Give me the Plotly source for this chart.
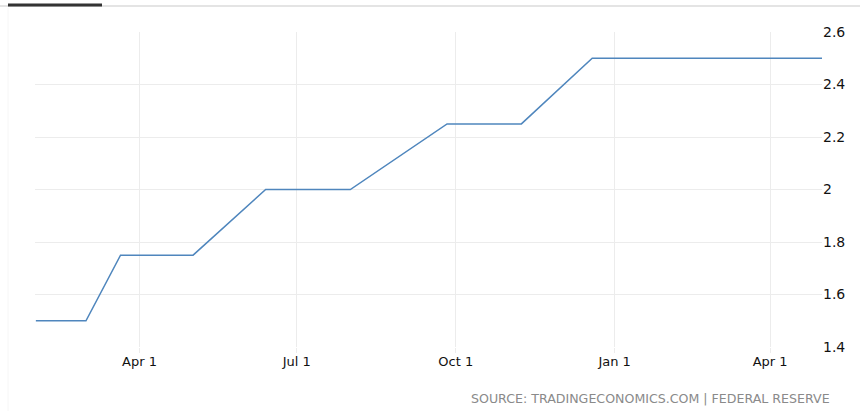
import plotly.graph_objects as go

dates = ["2018-01-31", "2018-03-01", "2018-03-21", "2018-05-02", "2018-06-13",
         "2018-08-01", "2018-09-26", "2018-11-08", "2018-12-19", "2019-01-30",
         "2019-03-20", "2019-05-01"]
rates = [1.50, 1.50, 1.75, 1.75, 2.00, 2.00, 2.25, 2.25, 2.50, 2.50, 2.50, 2.50]

x_tick_vals = ["2018-04-01", "2018-07-01", "2018-10-01", "2019-01-01", "2019-04-01"]
x_tick_text = ["Apr 1", "Jul 1", "Oct 1", "Jan 1", "Apr 1"]
y_tick_vals = [1.4, 1.6, 1.8, 2.0, 2.2, 2.4, 2.6]
y_tick_text = ["1.4", "1.6", "1.8", "2", "2.2", "2.4", "2.6"]

fig = go.Figure()
fig.add_trace(go.Scatter(x=dates, y=rates, mode="lines",
                         line=dict(color="#4f86bd", width=1.5),
                         hoverinfo="skip", showlegend=False))

grid = "#ececec"
fig.update_layout(
    width=860, height=411,
    margin=dict(l=35, r=38, t=32, b=64),
    paper_bgcolor="white", plot_bgcolor="white",
    font=dict(family="DejaVu Sans", size=13, color="#000000"),
    xaxis=dict(range=["2018-01-30 12:00", "2019-05-01"], tickvals=x_tick_vals,
               ticktext=x_tick_text, showgrid=True, gridcolor=grid, gridwidth=1,
               ticks="outside", ticklen=5, tickcolor=grid, showline=False,
               zeroline=False, ticklabelstandoff=-3,
               tickfont=dict(size=13, color="#111")),
    yaxis=dict(range=[1.4, 2.6], side="right", tickvals=y_tick_vals,
               ticktext=y_tick_text, showgrid=True, gridcolor=grid, gridwidth=1,
               showline=False, zeroline=False, ticks="",
               tickfont=dict(size=14, color="#111")),
    shapes=[
        dict(type="line", xref="paper", yref="paper", x0=-35/787, x1=825/787,
             y0=1 + 26/315, y1=1 + 26/315, line=dict(color="#e4e4e4", width=2)),
        dict(type="line", xref="paper", yref="paper", x0=-27/787, x1=67/787,
             y0=1 + 27/315, y1=1 + 27/315, line=dict(color="#333333", width=3)),
        dict(type="line", xref="paper", yref="paper", x0=-27/787, x1=-27/787,
             y0=1 + 24/315, y1=-64/315, line=dict(color="#f6f6f6", width=1)),
    ],
    annotations=[dict(text="SOURCE: TRADINGECONOMICS.COM | FEDERAL RESERVE",
                      xref="paper", yref="paper", x=(832-35)/787, y=-(398-347)/315,
                      xanchor="right", yanchor="middle", showarrow=False,
                      font=dict(family="DejaVu Sans", size=12.6, color="#8a8a8a"))],
)

fig.write_html("out.html", config={"displayModeBar": False},
               post_script="document.body.style.margin='0';")
